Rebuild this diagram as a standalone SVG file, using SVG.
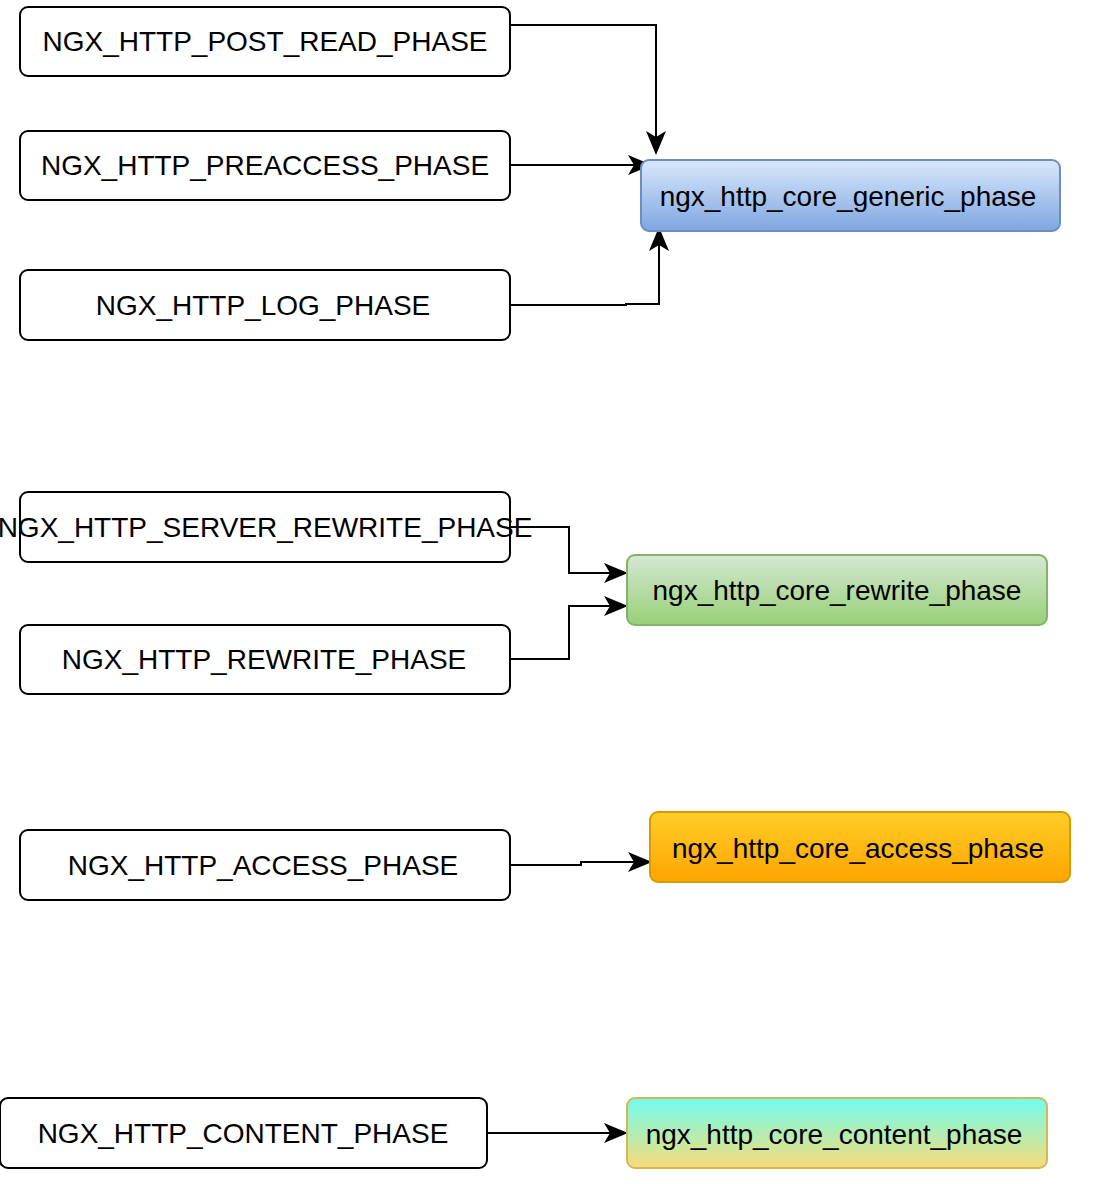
<svg xmlns="http://www.w3.org/2000/svg" width="1094" height="1184" viewBox="0 0 1094 1184">
<style>
.box{fill:#fff;stroke:#000;stroke-width:2}
.t{font-family:"Liberation Sans",Arial,sans-serif;font-size:28px;fill:#000;text-anchor:middle}
.c{fill:none;stroke:#000;stroke-width:2}
</style>
<defs>
<linearGradient id="gBlue" x1="0" y1="0" x2="0" y2="1"><stop offset="0" stop-color="#dae8fc"/><stop offset="1" stop-color="#7ea6e0"/></linearGradient>
<linearGradient id="gGreen" x1="0" y1="0" x2="0" y2="1"><stop offset="0" stop-color="#d5e8d4"/><stop offset="1" stop-color="#97d077"/></linearGradient>
<linearGradient id="gOrange" x1="0" y1="0" x2="0" y2="1"><stop offset="0" stop-color="#ffcd28"/><stop offset="1" stop-color="#ffa500"/></linearGradient>
<linearGradient id="gCyan" x1="0" y1="0" x2="0" y2="1"><stop offset="0" stop-color="#70fdf0"/><stop offset="1" stop-color="#f7dc78"/></linearGradient>
<marker id="arr" viewBox="0 0 24 22" refX="22" refY="11" markerWidth="24" markerHeight="22" markerUnits="userSpaceOnUse" orient="auto">
<path d="M0,1 L24,11 L0,21 L6,11 Z" fill="#000"/>
</marker>
</defs>
<g id="connectors">
<path class="c" d="M510,25 H656 V153" marker-end="url(#arr)"/>
<path class="c" d="M510,165 H650" marker-end="url(#arr)"/>
<path class="c" d="M510,305 H626 V304 H659 V229" marker-end="url(#arr)"/>
<path class="c" d="M510,527 H569 V573 H626" marker-end="url(#arr)"/>
<path class="c" d="M510,659 H569 V606 H626" marker-end="url(#arr)"/>
<path class="c" d="M510,865 H581 V862 H650" marker-end="url(#arr)"/>
<path class="c" d="M487,1133 H626" marker-end="url(#arr)"/>
</g>
<g id="post_read"><rect class="box" x="20" y="7" width="490" height="69" rx="8"/><text class="t" x="265" y="51">NGX_HTTP_POST_READ_PHASE</text></g>
<g id="preaccess"><rect class="box" x="20" y="131" width="490" height="69" rx="8"/><text class="t" x="265" y="175">NGX_HTTP_PREACCESS_PHASE</text></g>
<g id="log"><rect class="box" x="20" y="270" width="490" height="70" rx="8"/><text class="t" x="263" y="315">NGX_HTTP_LOG_PHASE</text></g>
<g id="generic"><rect x="641" y="160" width="419" height="71" rx="8" fill="url(#gBlue)" stroke="#6c8ebf" stroke-width="2"/><text class="t" x="848" y="206">ngx_http_core_generic_phase</text></g>
<g id="server_rewrite"><rect class="box" x="20" y="492" width="490" height="70" rx="8"/><text class="t" x="265" y="537">NGX_HTTP_SERVER_REWRITE_PHASE</text></g>
<g id="rewrite"><rect class="box" x="20" y="625" width="490" height="69" rx="8"/><text class="t" x="264" y="669">NGX_HTTP_REWRITE_PHASE</text></g>
<g id="rewrite_handler"><rect x="627" y="555" width="420" height="70" rx="8" fill="url(#gGreen)" stroke="#82b366" stroke-width="2"/><text class="t" x="837" y="600">ngx_http_core_rewrite_phase</text></g>
<g id="access"><rect class="box" x="20" y="830" width="490" height="70" rx="8"/><text class="t" x="263" y="875">NGX_HTTP_ACCESS_PHASE</text></g>
<g id="access_handler"><rect x="650" y="812" width="420" height="70" rx="8" fill="url(#gOrange)" stroke="#d79b00" stroke-width="2"/><text class="t" x="858" y="858">ngx_http_core_access_phase</text></g>
<g id="content"><rect class="box" x="0" y="1098" width="487" height="70" rx="8"/><text class="t" x="243" y="1143">NGX_HTTP_CONTENT_PHASE</text></g>
<g id="content_handler"><rect x="627" y="1098" width="420" height="70" rx="8" fill="url(#gCyan)" stroke="#d6b656" stroke-width="2"/><text class="t" x="834" y="1144">ngx_http_core_content_phase</text></g>
</svg>
